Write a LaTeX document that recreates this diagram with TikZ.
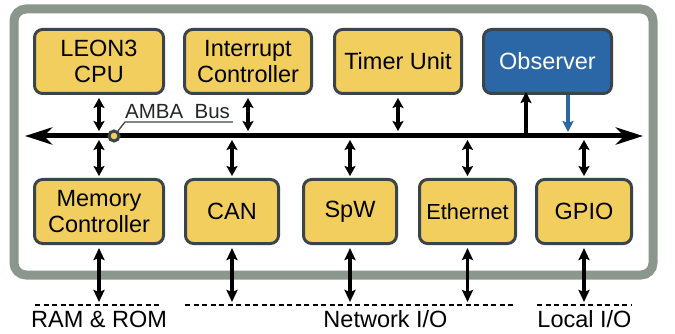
\documentclass[tikz,border=0pt]{standalone}
\usepackage{fontspec}
\setmainfont{Liberation Sans}
\usetikzlibrary{arrows.meta}
\definecolor{boxfill}{HTML}{F2CE5E}
\definecolor{boxdraw}{HTML}{3B444B}
\definecolor{obsfill}{HTML}{2B67A7}
\definecolor{framecol}{HTML}{8B968C}
\begin{document}
\begin{tikzpicture}[x=1pt,y=-1pt,
  blk/.style={draw=boxdraw, line width=3pt, fill=boxfill, rounded corners=8pt,
    align=center, inner sep=0pt, minimum height=64pt,
    font=\fontsize{23.5}{25.5}\selectfont},
  obs/.style={blk, fill=obsfill, text=white},
  sarr/.style={line width=3.2pt, {Stealth[length=10pt,width=11pt,inset=2pt]}-{Stealth[length=10pt,width=11pt,inset=2pt]}},
  iarr/.style={line width=3.4pt, {Stealth[length=12pt,width=11pt,inset=2pt]}-{Stealth[length=12pt,width=11pt,inset=2pt]}},
  uarr/.style={line width=3.4pt, -{Stealth[length=11pt,width=11pt,inset=2pt]}},
  dline/.style={line width=1.4pt, dash pattern=on 5pt off 3.5pt},
  lbl/.style={inner sep=0pt, font=\fontsize{23.5}{25.5}\selectfont},
]
\useasboundingbox (0,0) rectangle (675,334);
% outer frame
\draw[framecol, line width=9pt, rounded corners=12pt] (14,9) rectangle (653,275);

% top blocks
\node[blk, minimum width=129pt] (cpu) at (99,61.5) {LEON3\\CPU};
\node[blk, minimum width=127pt] (irq) at (248,61.5) {Interrupt\\Controller};
\node[blk, minimum width=127pt] (tmr) at (398,61.5) {Timer Unit};
\node[obs, minimum width=128pt] (obs) at (547.5,61.5) {Observer};

% bottom blocks
\node[blk, minimum width=129pt] (mem) at (99,211.5) {Memory\\Controller};
\node[blk, minimum width=93pt] (can) at (232,211.5) {CAN};
\node[blk, minimum width=93pt] (spw) at (350,211.5) {SpW};
\node[blk, minimum width=96pt, font=\fontsize{21.8}{24}\selectfont] (eth) at (467.5,211.5) {Ethernet};
\node[blk, minimum width=95pt] (gpio) at (584,211.5) {GPIO};

% bus
\coordinate (busL) at (25,136);
\coordinate (busR) at (643,136);
\draw[line width=5pt, {Stealth[length=27pt,width=17pt,inset=8pt]}-{Stealth[length=27pt,width=17pt,inset=8pt]}] (busL) -- (busR);

% top connections
\draw[sarr, shorten <=3pt, shorten >=5pt] (cpu.south) -- (cpu.south |- busL);
\draw[sarr, shorten <=3pt, shorten >=5pt] (irq.south) -- (irq.south |- busL);
\draw[sarr, shorten <=3pt, shorten >=5pt] (tmr.south) -- (tmr.south |- busL);
\coordinate (obsUp) at ([xshift=-21.5pt,yshift=3pt]obs.south);
\draw[uarr] (obsUp |- busL) -- (obsUp);
\coordinate (obsDn) at ([xshift=20.5pt]obs.south);
\draw[uarr, obsfill, shorten >=4pt] (obsDn) -- (obsDn |- busL);

% bus to bottom
\draw[sarr, shorten <=4pt, shorten >=2pt] (mem.north |- busL) -- (mem.north);
\draw[sarr, shorten <=4pt, shorten >=2pt] (can.north |- busL) -- (can.north);
\draw[sarr, shorten <=4pt, shorten >=2pt] (spw.north |- busL) -- (spw.north);
\draw[sarr, shorten <=4pt, shorten >=2pt] (eth.north |- busL) -- (eth.north);
\draw[sarr, shorten <=4pt, shorten >=2pt] (gpio.north |- busL) -- (gpio.north);

% I/O lines
\coordinate (ramA) at (35,305);  \coordinate (ramB) at (162,305);
\coordinate (netA) at (185,305); \coordinate (netB) at (515,305);
\coordinate (locA) at (537,305); \coordinate (locB) at (632,305);
\draw[dline] (ramA) -- (ramB);
\draw[dline] (netA) -- (netB);
\draw[dline] (locA) -- (locB);
\node[lbl, anchor=base] (ram) at (99,327) {RAM \& ROM};
\node[lbl, anchor=base] (net) at (385.5,327) {Network I/O};
\node[lbl, anchor=base] (loc) at (584.5,327) {Local I/O};

\draw[iarr, shorten <=3pt, shorten >=3pt] (mem.south) -- (mem.south |- ramA);
\draw[iarr, shorten <=3pt, shorten >=3pt] (can.south) -- (can.south |- netA);
\draw[iarr, shorten <=3pt, shorten >=3pt] (spw.south) -- (spw.south |- netA);
\draw[iarr, shorten <=3pt, shorten >=3pt] (eth.south) -- (eth.south |- netA);
\draw[iarr, shorten <=3pt, shorten >=3pt] (gpio.south) -- (gpio.south |- locA);

% AMBA Bus label
\node[inner sep=0pt, anchor=base west, font=\fontsize{20.5}{24}\selectfont, text=black!85] (amba) at (125,119) {AMBA\ \ Bus};
\coordinate (ulA) at (125,122);
\coordinate (ulB) at (233,122);
\node[circle, draw=boxdraw, line width=3pt, fill=boxfill, minimum size=10pt, inner sep=0pt] (dot) at (114,136) {};
\draw[boxdraw, line width=1.3pt] (dot) -- (ulA) -- (ulB);
\end{tikzpicture}
\end{document}
